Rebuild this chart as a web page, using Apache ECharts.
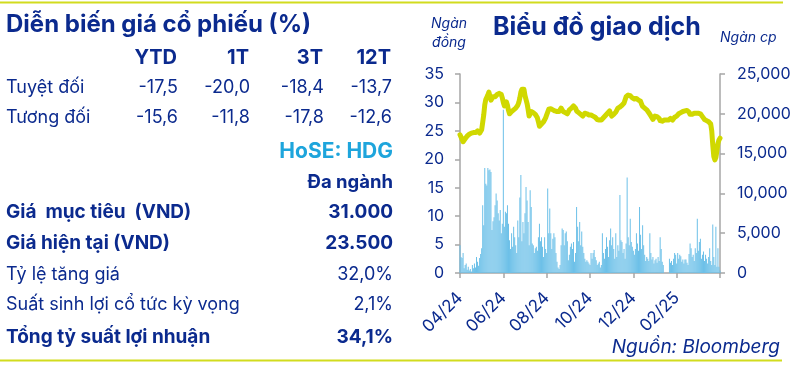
<!DOCTYPE html>
<html>
<head>
<meta charset="utf-8">
<script src="https://cdn.jsdelivr.net/npm/echarts@6/dist/echarts.min.js"></script>
<style>
html,body{margin:0;padding:0;background:#fff;}
#chart{width:799px;height:367px;}
</style>
</head>
<body>
<div id="chart"></div>
<script>
// ---- Data ----
const tickLabels = ['04/24', '06/24', '08/24', '10/24', '12/24', '02/25', ''];
const price = [
24.3,24.0,23.5,23.1,23.4,23.6,23.9,24.1,24.3,24.4,
24.6,24.6,24.5,24.7,24.8,24.7,24.9,25.0,24.8,24.6,
24.9,25.2,26.5,27.8,29.6,30.5,30.9,31.3,31.8,31.6,
30.4,30.6,31.0,31.1,31.0,31.3,31.4,31.5,31.6,31.6,
31.4,30.8,30.0,29.4,29.2,30.1,29.5,28.6,28.0,28.2,
28.4,28.5,28.7,28.8,29.0,29.2,29.5,30.0,30.8,31.8,
32.3,32.5,32.3,31.2,30.5,29.8,28.8,27.6,27.9,28.4,
28.3,28.2,28.0,27.9,27.8,27.3,26.6,25.8,25.7,26.2,
26.4,26.6,26.9,27.3,27.8,28.3,28.8,29.0,28.9,28.8,
28.7,28.6,28.5,28.4,28.4,28.3,28.4,28.4,29.0,28.7,
28.4,28.3,28.2,28.1,28.0,28.3,28.7,28.8,29.0,29.2,
29.4,29.5,29.0,28.5,28.3,28.2,28.1,27.9,27.7,27.6,
27.9,28.1,28.1,28.0,27.9,27.8,27.9,27.8,27.7,27.6,
27.4,27.4,27.2,27.0,26.9,26.9,26.9,26.9,27.1,27.3,
27.6,27.7,27.9,28.1,28.3,28.5,28.8,27.6,27.8,27.9,
28.1,28.3,28.6,29.0,29.1,29.2,29.3,29.5,29.7,29.9,
30.2,31.0,31.2,31.3,31.3,31.2,30.9,30.8,30.7,30.6,
30.7,30.7,30.5,30.4,30.6,30.2,29.7,29.3,29.2,29.0,
28.8,28.7,28.5,28.2,28.0,27.6,27.3,27.0,27.3,27.6,
27.6,27.5,27.8,27.2,26.8,26.6,26.7,26.8,26.9,26.9,
26.9,27.0,26.9,27.0,27.2,27.2,26.9,27.1,27.4,27.5,
27.6,27.8,28.0,28.1,28.2,28.3,28.4,28.4,28.5,28.5,
28.6,28.7,28.3,27.9,27.8,27.9,28.1,28.1,28.0,28.1,
28.2,28.1,28.1,28.0,27.7,27.5,27.3,27.0,26.9,26.8,
26.7,26.6,26.4,26.2,25.0,22.5,20.5,19.9,20.3,21.5,
22.8,23.4,23.7
];
const volume = [
3500,2000,1900,2500,600,1000,1200,400,800,300,
500,200,1000,600,1200,700,2000,1400,900,1900,
2400,3100,8500,6000,13200,11200,11000,13200,12900,13000,
12700,5400,6500,7000,8500,10000,9100,7500,6600,7900,
5000,6200,20500,5800,7700,7500,8500,6200,4100,3000,
5000,3300,5800,4500,3500,2500,6600,4500,9500,12300,
4000,6400,5000,7500,10800,9100,6400,3500,10400,8300,
3700,3500,2500,3100,3300,2800,4500,6200,4000,4500,
3300,2000,4500,3000,2500,10600,5000,8100,5000,3000,
4300,5000,4500,2500,1400,700,500,1000,3500,5600,
5400,3500,5000,5200,4000,1600,2300,3300,3700,3000,
3900,1400,2500,8300,5800,4000,6400,3500,5200,3300,
2500,1800,1400,1600,1400,1200,1000,2500,1800,2500,
2900,2000,1600,1000,1200,1400,700,1000,5000,2500,
1800,3000,4500,3300,2000,4100,5600,3500,4500,3000,
1800,5000,2000,3500,2800,9800,4100,3900,2500,3000,
1800,3700,12000,4500,3500,6800,3900,3300,2800,2300,
3000,5000,3700,2800,8300,4800,3000,6000,3500,2300,
1500,2000,1800,1500,5000,2500,1700,2000,1200,1600,
1800,1300,2000,1500,4500,3000,1400,1000,0,0,
0,0,0,1800,1300,1500,1000,1800,2500,2300,
1200,2500,1800,2300,2100,1400,1700,1200,1700,1700,
1300,1000,2400,3700,3100,2000,2300,1500,3100,2500,
6800,2800,3900,4300,1800,2300,2700,1500,2300,1800,
1200,2000,3100,1500,1000,6100,2000,1000,5800,800,
3100,800,300
];
const perfHeaders = ['YTD', '1T', '3T', '12T'];
const perfRows = [
  ['Tuyệt đối', '-17,5', '-20,0', '-18,4', '-13,7'],
  ['Tương đối', '-15,6', '-11,8', '-17,8', '-12,6']
];
const infoRows = [
  ['Giá  mục tiêu  (VND)', '31.000', true],
  ['Giá hiện tại (VND)', '23.500', true],
  ['Tỷ lệ tăng giá', '32,0%', false],
  ['Suất sinh lợi cổ tức kỳ vọng', '2,1%', false],
  ['Tổng tỷ suất lợi nhuận', '34,1%', true]
];

// ---- Styles ----
const NAVY = '#0b2a8e';
const CYAN = '#1ea5dc';
const LIME = '#d2dc1e';
const FF = 'Inter, Roboto, sans-serif';
const STEP = 42;

const categories = price.map((_, i) => i);

function txt(x, y, text, font, fill, align) {
  return { type: 'text', x: x, y: y, silent: true,
    style: { text: text, font: font, fill: fill || NAVY, align: align || 'left', verticalAlign: 'middle' } };
}

const g = [];
g.push({ type: 'line', silent: true, shape: { x1: 0, y1: 2.5, x2: 783, y2: 2.5 }, style: { stroke: LIME, lineWidth: 2 } });
g.push({ type: 'line', silent: true, shape: { x1: 0, y1: 360.5, x2: 782, y2: 360.5 }, style: { stroke: LIME, lineWidth: 2 } });
g.push(txt(6, 25, 'Diễn biến giá cổ phiếu (%)', 'bold 24px ' + FF));
const colX = [177, 249, 323, 391];
perfHeaders.forEach((h, i) => g.push(txt(colX[i], 58, h, 'bold 20px ' + FF, NAVY, 'right')));
perfRows.forEach((r, ri) => {
  const y = 88 + ri * 30;
  g.push(txt(6, y, r[0], '18px ' + FF));
  for (let i = 1; i < r.length; i++) g.push(txt(colX[i - 1] + 1, y, r[i], '18px ' + FF, NAVY, 'right'));
});
g.push(txt(393, 152, 'HoSE: HDG', 'bold 21px ' + FF, CYAN, 'right'));
g.push(txt(393, 182, 'Đa ngành', 'bold 18.5px ' + FF, NAVY, 'right'));
const infoY = [212, 243, 275, 305, 337];
infoRows.forEach((r, i) => {
  const f = (r[2] ? 'bold 19px ' : '18px ') + FF;
  g.push(txt(6, infoY[i], r[0], f));
  g.push(txt(393, infoY[i], r[1], f, NAVY, 'right'));
});
g.push(txt(493, 27, 'Biểu đồ giao dịch', 'bold 25px ' + FF));
g.push(txt(449, 24, 'Ngàn', 'italic 14px ' + FF, NAVY, 'center'));
g.push(txt(449, 43, 'đồng', 'italic 14px ' + FF, NAVY, 'center'));
g.push(txt(720, 38, 'Ngàn cp', 'italic 14px ' + FF));
g.push(txt(780, 347, 'Nguồn: Bloomberg', 'italic 19px ' + FF, NAVY, 'right'));

const chart = echarts.init(document.getElementById('chart'), null, { renderer: 'canvas' });
chart.setOption({
  animation: false,
  backgroundColor: '#ffffff',
  grid: { left: 460, right: 79, top: 74, bottom: 94, containLabel: false },
  xAxis: {
    type: 'category',
    data: categories,
    boundaryGap: false,
    axisLine: { lineStyle: { color: '#a6a6a6', width: 1.5 } },
    axisTick: { show: true, inside: false, length: 5, lineStyle: { color: '#a6a6a6', width: 1.5 },
      interval: (idx) => idx % STEP === 0 },
    axisLabel: {
      interval: (idx) => idx % STEP === 0,
      formatter: (v, idx) => tickLabels[Math.round(idx / STEP)] || '',
      rotate: 45, margin: 22, color: NAVY, fontSize: 17, fontFamily: FF
    },
    splitLine: { show: false }
  },
  yAxis: [
    {
      type: 'value', min: 0, max: 35, interval: 5, position: 'left',
      axisLine: { show: true, lineStyle: { color: '#a6a6a6', width: 1.5 } },
      axisTick: { show: true, length: 5, lineStyle: { color: '#a6a6a6', width: 1.5 } },
      axisLabel: { color: NAVY, fontSize: 16, fontFamily: FF, margin: 16 },
      splitLine: { show: false }
    },
    {
      type: 'value', min: 0, max: 25000, interval: 5000, position: 'right',
      axisLine: { show: true, lineStyle: { color: '#a6a6a6', width: 1.5 } },
      axisTick: { show: true, length: 5, lineStyle: { color: '#a6a6a6', width: 1.5 } },
      axisLabel: { color: NAVY, fontSize: 16, fontFamily: FF, margin: 17,
        formatter: (v) => v.toLocaleString('en-US') },
      splitLine: { show: false }
    }
  ],
  series: [
    {
      type: 'bar', yAxisIndex: 1, data: volume, barWidth: 1,
      itemStyle: { color: '#6cc0e8' }, z: 2, silent: true
    },
    {
      type: 'line', yAxisIndex: 0, data: price, symbol: 'none', smooth: false,
      lineStyle: { color: '#d0d800', width: 5, cap: 'round', join: 'round' }, z: 3, silent: true
    }
  ],
  graphic: g
});
</script>
</body>
</html>
